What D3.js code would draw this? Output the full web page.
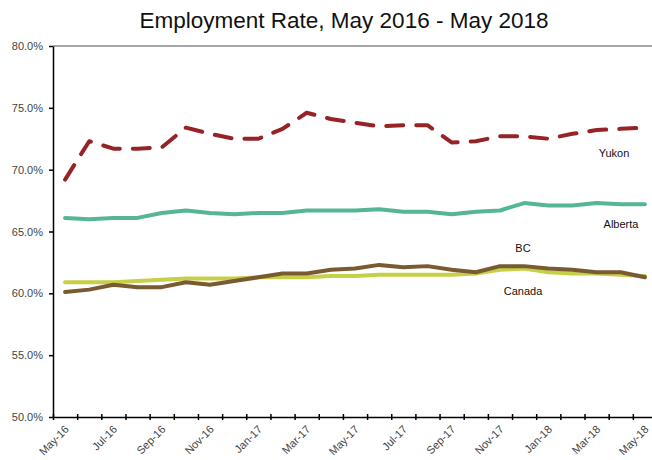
<!DOCTYPE html>
<html>
<head>
<meta charset="utf-8">
<script src="https://cdn.jsdelivr.net/npm/d3@7"></script>
<style>
  html, body { margin: 0; padding: 0; background: #fff; }
  svg { display: block; font-family: "Liberation Sans", Arial, sans-serif; }
</style>
</head>
<body>
<svg id="chart" width="652" height="460"></svg>
<script>
// Monthly categories, May 2016 to May 2018
const months = ["May-16","Jun-16","Jul-16","Aug-16","Sep-16","Oct-16","Nov-16","Dec-16",
  "Jan-17","Feb-17","Mar-17","Apr-17","May-17","Jun-17","Jul-17","Aug-17","Sep-17",
  "Oct-17","Nov-17","Dec-17","Jan-18","Feb-18","Mar-18","Apr-18","May-18"];

// Employment rate (%) by region
const yukon   = [69.2,72.3,71.7,71.7,71.8,73.4,72.9,72.5,72.5,73.3,74.6,74.1,73.8,73.5,73.6,73.6,72.2,72.3,72.7,72.7,72.5,72.9,73.2,73.3,73.4];
const alberta = [66.1,66.0,66.1,66.1,66.5,66.7,66.5,66.4,66.5,66.5,66.7,66.7,66.7,66.8,66.6,66.6,66.4,66.6,66.7,67.3,67.1,67.1,67.3,67.2,67.2];
const bc      = [60.1,60.3,60.7,60.5,60.5,60.9,60.7,61.0,61.3,61.6,61.6,61.9,62.0,62.3,62.1,62.2,61.9,61.7,62.2,62.2,62.0,61.9,61.7,61.7,61.3];
const canada  = [60.9,60.9,60.9,61.0,61.1,61.2,61.2,61.2,61.3,61.3,61.3,61.4,61.4,61.5,61.5,61.5,61.5,61.6,61.9,62.0,61.7,61.6,61.6,61.5,61.4];

const yTicks = [50,55,60,65,70,75,80];

const series = [
  { name: "Canada",  values: canada,  color: "#c6cf48", dash: null,    label: [523, 295] },
  { name: "BC",      values: bc,      color: "#7a5a30", dash: null,    label: [523, 252] },
  { name: "Alberta", values: alberta, color: "#56b595", dash: null,    label: [621, 228] },
  { name: "Yukon",   values: yukon,   color: "#962325", dash: "17,13", label: [614, 157] }
];

const svg = d3.select("#chart");
const plotLeft = 53, plotTop = 46, plotBottom = 417, plotRight = 657;

const x = d3.scaleLinear().domain([-0.5, months.length - 0.5]).range([plotLeft, plotRight]);
const y = d3.scaleLinear().domain([50, 80]).range([plotBottom, plotTop]);

// Title
svg.append("text")
  .attr("x", 344).attr("y", 28)
  .attr("text-anchor", "middle")
  .attr("font-size", 22.5)
  .attr("fill", "#111")
  .text("Employment Rate, May 2016 - May 2018");

// Top boundary line at 80%
svg.append("line")
  .attr("x1", plotLeft).attr("x2", 652)
  .attr("y1", y(80)).attr("y2", y(80))
  .attr("stroke", "#888").attr("stroke-width", 1.5);

// Y axis
const yAxis = svg.append("g")
  .attr("transform", `translate(${plotLeft},0)`)
  .call(d3.axisLeft(y).tickValues(yTicks).tickSize(4).tickSizeOuter(0)
    .tickFormat(d => d3.format(".1f")(d) + "%"));
yAxis.select(".domain").attr("stroke", "#000").attr("stroke-width", 1.5);
yAxis.selectAll(".tick line").attr("stroke", "#000").attr("stroke-width", 1.5);
yAxis.selectAll(".tick text")
  .attr("x", -10)
  .attr("font-size", 11).attr("fill", "#444")
  .attr("font-family", "Liberation Sans, Arial, sans-serif");

// X axis: tick marks on category boundaries
const xTicks = d3.range(months.length + 1).map(i => i - 0.5);
const xAxis = svg.append("g")
  .attr("transform", `translate(0,${plotBottom})`)
  .call(d3.axisBottom(x).tickValues(xTicks).tickSizeInner(3).tickSizeOuter(0).tickFormat(""));
xAxis.select(".domain").attr("stroke", "#000").attr("stroke-width", 1.5);
xAxis.selectAll(".tick line").attr("stroke", "#000").attr("stroke-width", 1.5).attr("y1", -3);

// X labels at every second month, rotated
const xLab = svg.append("g")
  .attr("transform", `translate(0,${plotBottom})`)
  .call(d3.axisBottom(x)
    .tickValues(d3.range(0, months.length, 2))
    .tickSize(0)
    .tickFormat(i => months[i]));
xLab.select(".domain").remove();
xLab.selectAll(".tick text")
  .attr("font-size", 11).attr("fill", "#444")
  .attr("font-family", "Liberation Sans, Arial, sans-serif")
  .attr("text-anchor", "end")
  .attr("dy", null)
  .attr("y", 0)
  .attr("transform", "translate(4,13) rotate(-45)");

// Series lines
const line = d3.line().x((d, i) => x(i)).y(d => y(d));
series.forEach(s => {
  svg.append("path")
    .datum(s.values)
    .attr("d", line)
    .attr("fill", "none")
    .attr("stroke", s.color)
    .attr("stroke-width", 4)
    .attr("stroke-linejoin", "round")
    .attr("stroke-linecap", "round")
    .attr("stroke-dasharray", s.dash);
  svg.append("text")
    .attr("x", s.label[0]).attr("y", s.label[1])
    .attr("text-anchor", "middle")
    .attr("font-size", 11)
    .attr("fill", "#111")
    .text(s.name);
});
</script>
</body>
</html>
